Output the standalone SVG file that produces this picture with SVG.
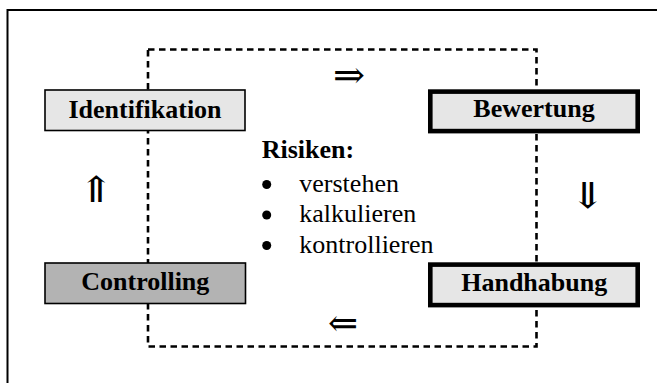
<svg xmlns="http://www.w3.org/2000/svg" width="657" height="383" viewBox="0 0 657 383">
<style>
.lbl{font-family:"Liberation Serif","Times New Roman",serif;font-weight:bold;font-size:26px;fill:#000;text-anchor:middle}
.txt{font-family:"Liberation Serif","Times New Roman",serif;font-size:26px;fill:#000}
.arr{font-family:"DejaVu Serif","Liberation Serif",serif;font-size:38px;fill:#000;text-anchor:middle}
.varr{font-family:"DejaVu Serif","Liberation Serif",serif;font-size:36px;fill:#000;text-anchor:middle}
.thin{stroke:#000;stroke-width:1.6}
.thick{stroke:#000;stroke-width:4.6}
.light{fill:#e6e6e6}
.dark{fill:#b3b3b3}
</style>
<rect x="0" y="0" width="657" height="383" fill="#fff"/>
<path d="M7.5,383 V10 H657" fill="none" stroke="#000" stroke-width="2"/>
<g id="connectors">
<rect x="148" y="49.5" width="388.5" height="297" fill="none" stroke="#000" stroke-width="2.6" stroke-dasharray="6.5 4.5"/>
<text class="arr" x="349" y="88" textLength="32" lengthAdjust="spacingAndGlyphs">⇒</text>
<text class="arr" x="343" y="336" textLength="30" lengthAdjust="spacingAndGlyphs">⇐</text>
<text class="varr" x="96" y="202" textLength="36" lengthAdjust="spacingAndGlyphs">⇑</text>
<text class="varr" x="587.5" y="208" textLength="36" lengthAdjust="spacingAndGlyphs">⇓</text>
</g>
<g id="identifikation">
<rect x="45" y="90" width="200" height="40.5" class="light thin"/>
<text class="lbl" x="145" y="118.3">Identifikation</text>
</g>
<g id="bewertung">
<rect x="430.3" y="91.6" width="207.4" height="39.5" class="light thick"/>
<text class="lbl" x="534" y="117.3">Bewertung</text>
</g>
<g id="controlling">
<rect x="45" y="263" width="200.5" height="40.5" class="dark thin"/>
<text class="lbl" x="145.3" y="290.3">Controlling</text>
</g>
<g id="handhabung">
<rect x="430.3" y="264.6" width="207.4" height="40.5" class="light thick"/>
<text class="lbl" x="534.2" y="291.3">Handhabung</text>
</g>
<g id="risiken">
<text class="txt" x="261.7" y="158.3" font-weight="bold">Risiken:</text>
<circle cx="266.7" cy="184.5" r="4.5" fill="#000"/>
<text class="txt" x="299.3" y="191.7">verstehen</text>
<circle cx="266.7" cy="215" r="4.5" fill="#000"/>
<text class="txt" x="299.3" y="222">kalkulieren</text>
<circle cx="266.7" cy="245.5" r="4.5" fill="#000"/>
<text class="txt" x="299.3" y="253">kontrollieren</text>
</g>
</svg>
